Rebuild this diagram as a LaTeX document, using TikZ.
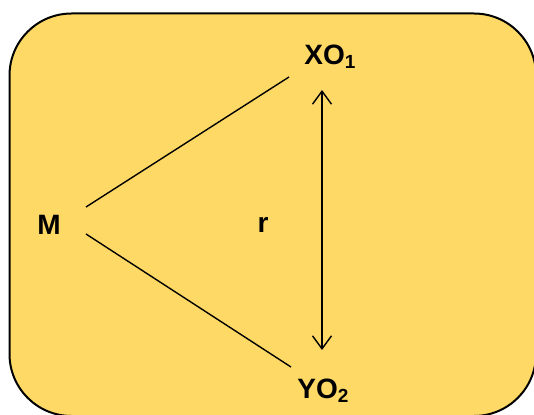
\documentclass[tikz,border=0pt]{standalone}
\usepackage{fontspec}
\setmainfont{Liberation Sans}
\usetikzlibrary{arrows.meta}
\definecolor{panel}{RGB}{255,217,102}
\newcommand{\subx}[1]{{\fontsize{19}{19}\selectfont\raisebox{-4pt}{#1}}}
\tikzset{
  lbl/.style={font=\fontsize{28}{32}\selectfont\bfseries, inner sep=0pt},
  conn/.style={line width=1.4pt, draw=black},
  dbl/.style={conn, {Straight Barb[length=13pt,width=19pt,line width=1.4pt]}-{Straight Barb[length=13pt,width=19pt,line width=1.4pt]}}
}
\begin{document}
\begin{tikzpicture}[x=1pt,y=-1pt]
\useasboundingbox (0,0) rectangle (534,414);
\clip (0,0) rectangle (534,414);
\draw[fill=panel, line width=2pt, rounded corners=62pt] (9.5,13.5) rectangle (536,416);
\node[lbl] (M) at (49,225) {M};
\node[lbl] (r) at (263,225) {r};
\node[lbl] (XO) at (330,57) {XO\subx{1}};
\node[lbl] (YO) at (323,391) {YO\subx{2}};
\coordinate (Ma) at (86,207);
\coordinate (Mb) at (86,234);
\coordinate (Xa) at (289,77);
\coordinate (Ya) at (291,367);
\coordinate (Xb) at (322,90);
\coordinate (Yb) at (322,350);
\draw[conn] (Ma) -- (Xa);
\draw[conn] (Mb) -- (Ya);
\draw[dbl] (Xb) -- (Yb);
\end{tikzpicture}
\end{document}
